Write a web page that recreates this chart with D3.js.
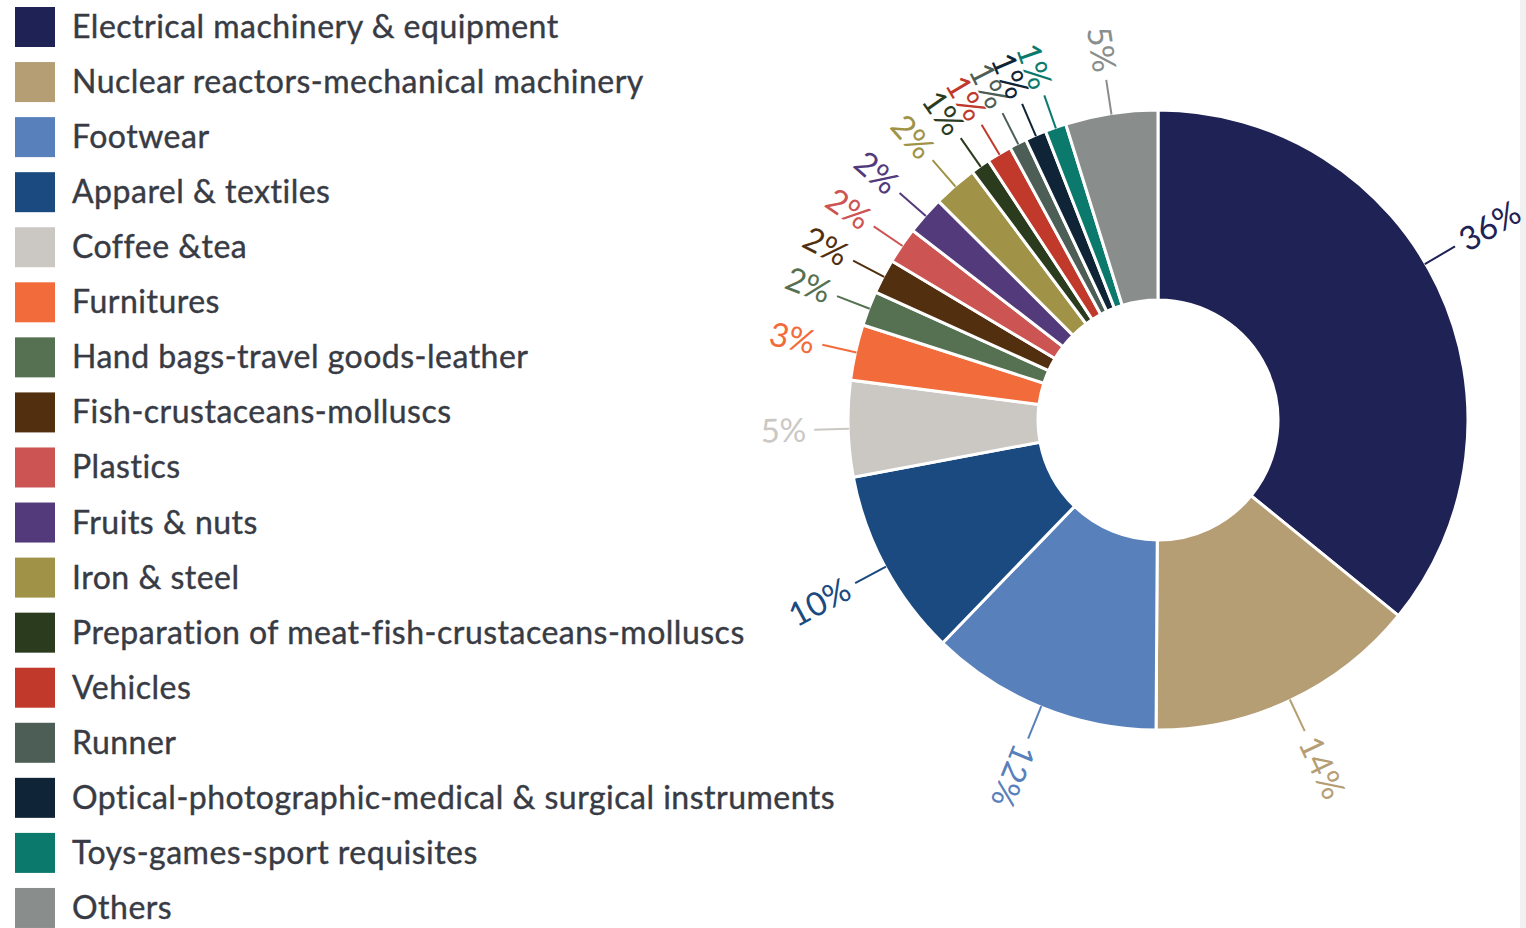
<!DOCTYPE html>
<html>
<head>
<meta charset="utf-8">
<script src="https://cdn.jsdelivr.net/npm/d3@7"></script>
<style>
  body { margin: 0; background: #fff; }
  svg { display: block; }
</style>
</head>
<body>
<script>
// categories, shares (%), colours
const categories = [
  "Electrical machinery & equipment",
  "Nuclear reactors-mechanical machinery",
  "Footwear",
  "Apparel & textiles",
  "Coffee &tea",
  "Furnitures",
  "Hand bags-travel goods-leather",
  "Fish-crustaceans-molluscs",
  "Plastics",
  "Fruits & nuts",
  "Iron & steel",
  "Preparation of meat-fish-crustaceans-molluscs",
  "Vehicles",
  "Runner",
  "Optical-photographic-medical & surgical instruments",
  "Toys-games-sport requisites",
  "Others"
];
const shares = [35.8, 14.2, 12.1, 9.8, 5.0, 2.9, 1.8, 1.8, 1.9, 2.0, 2.3, 1.0, 1.3, 0.9, 1.1, 1.1, 4.8];
const colors = [
  "#1f2254", "#b59d74", "#5880bb", "#1a4a80", "#cbc8c4", "#f26b3b",
  "#557152", "#52300f", "#cc5452", "#533a7b", "#a09347", "#2a3b1e",
  "#c0392b", "#4c5e55", "#0f2436", "#0b7a6c", "#898e8c"
];

const width = 1526, height = 928;
const cx = 1158, cy = 420;
const outerR = 310, innerR = 120;

const svg = d3.select("body").append("svg")
  .attr("width", width)
  .attr("height", height);

// faint edge on the right side of the screenshot
svg.append("rect")
  .attr("x", 1520).attr("y", 0)
  .attr("width", 6).attr("height", height)
  .style("fill", "#f1f1f1");

// legend
const rowH = 55.06;
const legend = svg.selectAll(".legend-row")
  .data(categories)
  .enter().append("g")
  .attr("class", "legend-row")
  .attr("transform", (d, i) => `translate(15, ${7 + i * rowH})`);

legend.append("rect")
  .attr("width", 40)
  .attr("height", 40)
  .style("fill", (d, i) => colors[i]);

legend.append("text")
  .attr("x", 57)
  .attr("y", 31)
  .style("font-family", "Lato, 'Open Sans', sans-serif")
  .style("font-size", "32px")
  .style("letter-spacing", "0.5px")
  .style("fill", "#383b44")
  .style("stroke", "#383b44")
  .style("stroke-width", 0.4)
  .text(d => d);

// donut
const pie = d3.pie().sort(null).value(d => d);
const arcs = pie(shares);
const arc = d3.arc().innerRadius(innerR).outerRadius(outerR);

const g = svg.append("g").attr("transform", `translate(${cx}, ${cy})`);

g.selectAll(".slice")
  .data(arcs)
  .enter().append("path")
  .attr("class", "slice")
  .attr("d", arc)
  .style("fill", (d, i) => colors[i])
  .style("stroke", "#fff")
  .style("stroke-width", 3);

// connectors and radial labels
const lineEnd = 344, labelR = 352, fontPx = 33;
const pt = (a, r) => [r * Math.sin(a), -r * Math.cos(a)];

// label angle: slice middle, pulled back if the text would run off the right edge
arcs.forEach(d => {
  let a = (d.startAngle + d.endAngle) / 2;
  const textLen = fontPx * 1.95;
  while (a < Math.PI / 2 && a > d.startAngle &&
         cx + (labelR + textLen) * Math.sin(a) > width - 8) {
    a -= 0.005;
  }
  d.labelAngle = a;
});

g.selectAll(".connector")
  .data(arcs)
  .enter().append("line")
  .attr("class", "connector")
  .attr("x1", d => pt(d.labelAngle, outerR - 1)[0])
  .attr("y1", d => pt(d.labelAngle, outerR - 1)[1])
  .attr("x2", d => pt(d.labelAngle, lineEnd)[0])
  .attr("y2", d => pt(d.labelAngle, lineEnd)[1])
  .style("stroke", (d, i) => colors[i])
  .style("stroke-width", 2);

g.selectAll(".pct")
  .data(arcs)
  .enter().append("text")
  .attr("class", "pct")
  .attr("transform", d => {
    const deg = d.labelAngle * 180 / Math.PI;
    const [x, y] = pt(d.labelAngle, labelR);
    // right side reads outward, left side is flipped to read inward
    const rot = deg < 225 ? deg - 90 : deg - 270;
    return `translate(${x}, ${y}) rotate(${rot})`;
  })
  .attr("text-anchor", d => (d.labelAngle * 180 / Math.PI) < 225 ? "start" : "end")
  .attr("dy", "0.35em")
  .style("font-family", "Lato, 'Open Sans', sans-serif")
  .style("font-size", fontPx + "px")
  .style("fill", (d, i) => colors[i])
  .text(d => Math.round(d.data) + "%");
</script>
</body>
</html>
